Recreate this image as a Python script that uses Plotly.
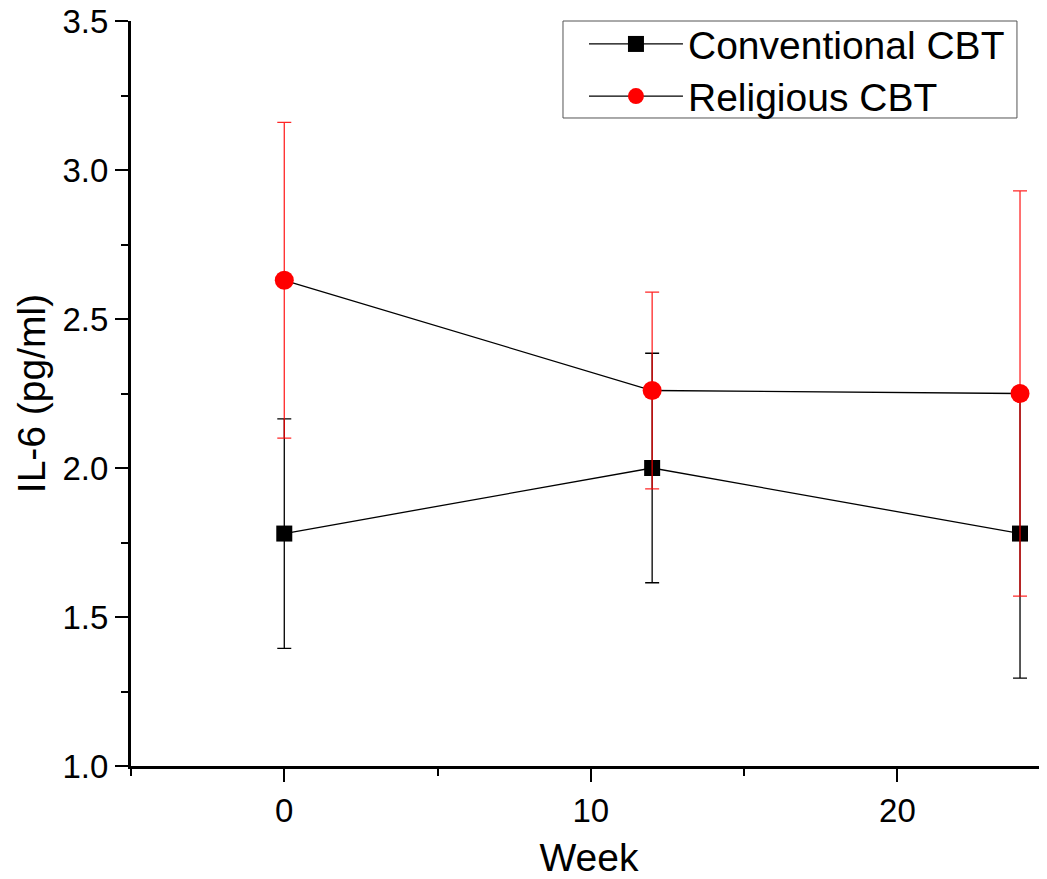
import plotly.graph_objects as go

weeks = [0, 12, 24]
conv_mean = [1.78, 2.00, 1.78]
conv_err = [0.385, 0.385, 0.485]
rel_mean = [2.63, 2.26, 2.25]
rel_err = [0.53, 0.33, 0.68]

FONT = "Liberation Sans, Arial, sans-serif"

fig = go.Figure()
fig.add_trace(go.Scatter(
    x=weeks, y=conv_mean, name="Conventional CBT", mode="lines+markers",
    line=dict(color="black", width=1.3),
    marker=dict(symbol="square", size=16, color="black"),
    error_y=dict(type="data", array=conv_err, visible=True, color="black",
                 thickness=1.3, width=7),
    legend="legend",
))
fig.add_trace(go.Scatter(
    x=weeks, y=rel_mean, name="Religious CBT", mode="lines+markers",
    line=dict(color="black", width=1.3),
    marker=dict(symbol="circle", size=19, color="#ff0000"),
    error_y=dict(type="data", array=rel_err, visible=True, color="rgba(255,0,0,0.85)",
                 thickness=1.3, width=7),
    legend="legend2",
))

leg_common = dict(
    xanchor="left", yanchor="middle", borderwidth=0, bgcolor="rgba(0,0,0,0)",
    font=dict(size=39, family=FONT, color="black"), itemwidth=94,
)

# page body has an 8px default margin; figure is sized/offset to compensate
fig.update_layout(
    width=1039, height=871,
    margin=dict(l=123, r=0, t=13, b=113),
    plot_bgcolor="white", paper_bgcolor="white",
    font=dict(family=FONT, color="black"),
    showlegend=True,
    legend=dict(x=0.4945, y=0.969, **leg_common),
    legend2=dict(x=0.4945, y=0.899, **leg_common),
    shapes=[dict(type="rect", xref="paper", yref="paper",
                 x0=0.4716, x1=0.9672, y0=0.8698, y1=1.0,
                 line=dict(color="#555555", width=1))],
    xaxis=dict(
        range=[-5, 24.88], tickmode="array", tickvals=[0, 10, 20],
        ticktext=["0", "10", "20"], automargin=False, ticklabeloverflow="allow",
        showline=True, linecolor="black", linewidth=3,
        ticks="outside", ticklen=13, tickwidth=2, tickcolor="black",
        minor=dict(tickmode="array", tickvals=[-5, 5, 15, 25], ticks="outside", ticklen=7, tickwidth=2, tickcolor="black"),
        showgrid=False, zeroline=False,
        tickfont=dict(size=33, family=FONT),
        title=dict(text="Week", font=dict(size=39, family=FONT), standoff=36),
    ),
    yaxis=dict(
        range=[1.0, 3.5], tickmode="array", tickvals=[1.0, 1.5, 2.0, 2.5, 3.0, 3.5],
        ticktext=["1.0", "1.5", "2.0", "2.5", "3.0", "3.5"], automargin=False,
        ticklabeloverflow="allow",
        showline=True, linecolor="black", linewidth=3,
        ticks="outside", ticklen=13, tickwidth=2, tickcolor="black",
        minor=dict(tickmode="array", tickvals=[1.25, 1.75, 2.25, 2.75, 3.25], ticks="outside", ticklen=7, tickwidth=2, tickcolor="black"),
        showgrid=False, zeroline=False,
        tickfont=dict(size=33, family=FONT),
        title=dict(text="IL-6 (pg/ml)", font=dict(size=39, family=FONT), standoff=5),
    ),
)

fig.write_html("out.html")
